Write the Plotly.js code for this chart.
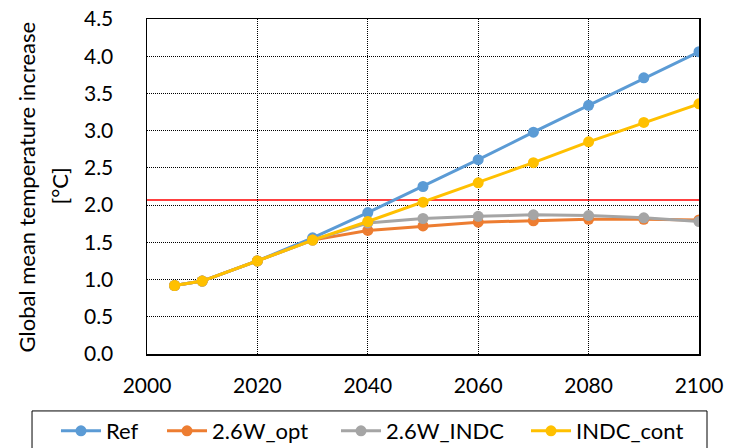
<!DOCTYPE html>
<html>
<head>
<meta charset="utf-8">
<script src="https://cdn.plot.ly/plotly-3.0.1.min.js"></script>
<style>html,body{margin:0;padding:0;background:#fff}</style>
</head>
<body>
<div id="chart" style="width:731px;height:448px"></div>
<script>
const years = [2005, 2010, 2020, 2030, 2040, 2050, 2060, 2070, 2080, 2090, 2100];
const ref = [0.92, 0.98, 1.25, 1.56, 1.90, 2.25, 2.61, 2.98, 3.34, 3.71, 4.06];
const opt26 = [0.92, 0.98, 1.25, 1.53, 1.66, 1.72, 1.77, 1.79, 1.81, 1.81, 1.80];
const indc26 = [0.92, 0.98, 1.25, 1.53, 1.76, 1.82, 1.85, 1.87, 1.86, 1.83, 1.78];
const indcCont = [0.92, 0.98, 1.25, 1.53, 1.78, 2.04, 2.30, 2.57, 2.85, 3.11, 3.36];
const seriesNames = ['Ref', '2.6W_opt', '2.6W_INDC', 'INDC_cont'];
const seriesColors = ['#5B9BD5', '#ED7D31', '#A5A5A5', '#FFC000'];
const thresholdLine = [2.07];
const yTickVals = [0, 0.5, 1.0, 1.5, 2.0, 2.5, 3.0, 3.5, 4.0, 4.5];
const xTickVals = [2000, 2020, 2040, 2060, 2080, 2100];

const FONT = 'Lato, "Liberation Sans", sans-serif';
const values = [ref, opt26, indc26, indcCont];
const legendIds = ['legend', 'legend2', 'legend3', 'legend4'];
const legendX = [-0.1649, 0.0272, 0.3424, 0.6866];
const traces = values.map((v, i) => ({
  type: 'scatter', mode: 'lines+markers', x: years, y: v, name: seriesNames[i],
  legend: legendIds[i],
  line: {color: seriesColors[i], width: 3},
  marker: {color: seriesColors[i], size: 11}
}));

const layout = {
  width: 731, height: 448,
  margin: {l: 147, r: 32, t: 19, b: 94, autoexpand: false},
  paper_bgcolor: '#fff', plot_bgcolor: '#fff',
  font: {family: FONT, size: 21, color: '#000'},
  showlegend: true,
  xaxis: {
    range: [2000, 2100], tickvals: xTickVals, ticktext: xTickVals.map(String),
    showgrid: true, gridcolor: '#000', griddash: '1px,1px', gridwidth: 1,
    showline: true, linecolor: '#000', linewidth: 1.5, mirror: true,
    ticks: '', ticklabelstandoff: 12, zeroline: false,
    tickfont: {family: FONT, size: 21, color: '#000'}
  },
  yaxis: {
    range: [0, 4.5], tickvals: yTickVals, ticktext: yTickVals.map(v => v.toFixed(1)),
    showgrid: true, gridcolor: '#000', griddash: '1px,1px', gridwidth: 1,
    showline: true, linecolor: '#000', linewidth: 1.5, mirror: true,
    ticks: '', ticklabelstandoff: 28, zeroline: false,
    tickfont: {family: FONT, size: 21, color: '#000'}
  },
  shapes: [
    {type: 'line', xref: 'paper', yref: 'y', x0: 0, x1: 1, y0: thresholdLine[0], y1: thresholdLine[0],
     line: {color: '#FF0000', width: 1.5}, layer: 'below'},
    {type: 'rect', xref: 'paper', yref: 'paper', x0: -0.2083, x1: 1.0145, y0: -0.31, y1: -0.170,
     line: {color: '#000', width: 1}, fillcolor: 'rgba(0,0,0,0)'}
  ],
  annotations: [
    {text: 'Global mean temperature increase', textangle: -90, xref: 'paper', yref: 'paper',
     x: -0.2174, y: 0.5, xanchor: 'center', yanchor: 'middle', showarrow: false,
     font: {family: FONT, size: 22, color: '#000'}},
    {text: '[°C]', textangle: -90, xref: 'paper', yref: 'paper',
     x: -0.1594, y: 0.5, xanchor: 'center', yanchor: 'middle', showarrow: false,
     font: {family: FONT, size: 22, color: '#000'}}
  ]
};
legendIds.forEach((id, i) => {
  layout[id] = {
    orientation: 'h', x: legendX[i], xanchor: 'left', y: -0.23, yanchor: 'middle',
    font: {family: FONT, size: 22, color: '#000'}, itemwidth: 40,
    bgcolor: 'rgba(0,0,0,0)', borderwidth: 0
  };
});
Plotly.newPlot('chart', traces, layout, {displayModeBar: false, staticPlot: true});
</script>
</body>
</html>
